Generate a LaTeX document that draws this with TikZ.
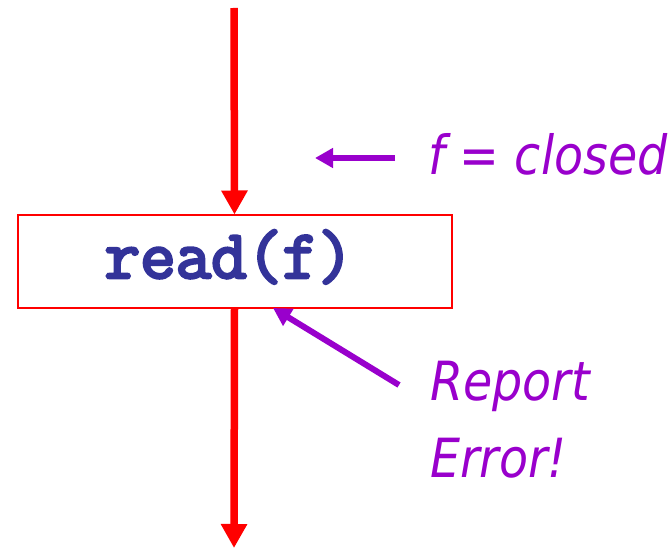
\documentclass[tikz,border=0pt]{standalone}
\usepackage{fontspec}
\usetikzlibrary{arrows.meta}
\newfontfamily\handfont[FakeStretch=0.88]{DejaVu Sans}
\newfontfamily\codefont[FakeBold=4]{Latin Modern Mono}
\definecolor{codeblue}{HTML}{333399}
\definecolor{notepurple}{HTML}{9900CC}
\tikzset{
  flow/.style={draw=red, line width=7.5pt, -{Triangle[width=25pt,length=24pt]}},
  note/.style={draw=notepurple, line width=6pt, -{Triangle[width=19pt,length=18pt]}},
  notetext/.style={text=notepurple, font=\handfont\itshape\fontsize{54}{64}\selectfont, inner sep=0pt, anchor=base west},
  stmtbox/.style={draw=red, line width=2pt, minimum width=434pt, minimum height=92pt, inner sep=0pt}
}
\begin{document}
\begin{tikzpicture}[x=1pt,y=-1pt]
\useasboundingbox (0,0) rectangle (672,548);
\node[stmtbox] (box) at (234.5,261.5) {};
\node[text=codeblue, font=\codefont\fontsize{69}{80}\selectfont, inner sep=0pt, anchor=base] (code) at (229,278) {read(f)};
\coordinate (top) at (234,8);
\coordinate (bot) at (234,548);
\draw[flow] (top) -- (box.north);
\draw[flow] (box.south) -- (bot);
\node[notetext] (closed) at (428,175) {f = closed};
\coordinate (cstart) at (395,158);
\coordinate (ctip) at (315,158);
\draw[note] (cstart) -- (ctip);
\node[notetext] (report) at (430,400) {Report};
\node[notetext] (error) at (430,477) {Error!};
\coordinate (rstart) at (399,385);
\coordinate (rtip) at (273,308);
\draw[note] (rstart) -- (rtip);
\end{tikzpicture}
\end{document}
